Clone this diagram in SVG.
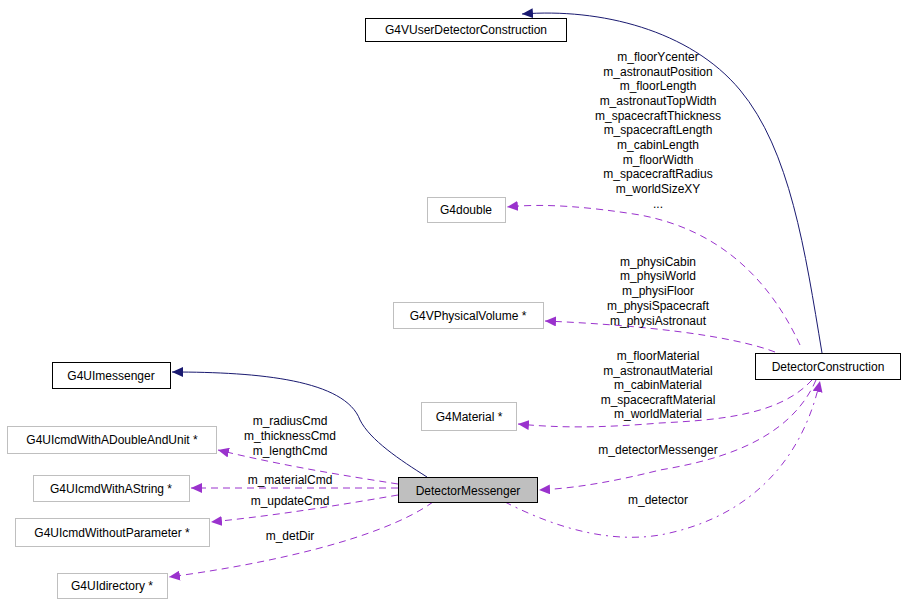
<svg xmlns="http://www.w3.org/2000/svg" width="904" height="600" viewBox="0 0 904 600">
<style>
text{font-family:"Liberation Sans",Arial,sans-serif;font-size:12px;fill:#000}
.n{fill:#fff;stroke:#000;stroke-width:1}
.g{fill:#fff;stroke:#bfbfbf;stroke-width:1}
.c{text-anchor:middle}
.inh{fill:none;stroke:#191970;stroke-width:1}
.use{fill:none;stroke:#9a32cd;stroke-width:1;stroke-dasharray:7,5}
.dd{fill:none;stroke:#9a32cd;stroke-width:1;stroke-dasharray:7,5,2,5}
</style>
<defs>
<marker id="an" markerWidth="12" markerHeight="10" refX="11" refY="5" orient="auto" markerUnits="userSpaceOnUse"><path d="M0,0L11,5L0,10z" fill="#191970"/></marker>
<marker id="ap" markerWidth="12" markerHeight="10" refX="11" refY="5" orient="auto" markerUnits="userSpaceOnUse"><path d="M0,0L11,5L0,10z" fill="#9a32cd"/></marker>
</defs>
<rect width="904" height="600" fill="#fff"/>
<g id="connectors">
<path class="inh" marker-end="url(#an)" d="M822,353 C805,250 790,150 740,90 C690,30 600,8 522,14"/>
<path class="inh" marker-end="url(#an)" d="M427,477 C400,460 370,440 360,420 C345,380 260,372 172,372"/>
<path class="use" marker-end="url(#ap)" d="M800,345 C770,280 720,230 640,215 C590,207 545,203 507,207"/>
<path class="use" marker-end="url(#ap)" d="M775,352 C730,335 640,325 545,321"/>
<path class="use" marker-end="url(#ap)" d="M812,380 C780,415 720,420 660,423 C600,428 560,428 518,424"/>
<path class="use" marker-end="url(#ap)" d="M816,380 C790,440 720,460 660,470 C620,480 580,488 539,490"/>
<path class="dd" marker-end="url(#ap)" d="M505,502 C540,520 600,545 660,535 C740,520 800,470 820,381"/>
<path class="use" marker-end="url(#ap)" d="M398,484 C340,475 280,465 218,450"/>
<path class="use" marker-end="url(#ap)" d="M398,488 L191,488"/>
<path class="use" marker-end="url(#ap)" d="M398,495 C340,505 280,515 211,522"/>
<path class="use" marker-end="url(#ap)" d="M433,502 C380,540 260,565 169,577"/>
</g>
<g id="labels">
<text class="c" x="658" y="61">m_floorYcenter</text>
<text class="c" x="658" y="76">m_astronautPosition</text>
<text class="c" x="658" y="90">m_floorLength</text>
<text class="c" x="658" y="105">m_astronautTopWidth</text>
<text class="c" x="658" y="120">m_spacecraftThickness</text>
<text class="c" x="658" y="134">m_spacecraftLength</text>
<text class="c" x="658" y="149">m_cabinLength</text>
<text class="c" x="658" y="164">m_floorWidth</text>
<text class="c" x="658" y="178">m_spacecraftRadius</text>
<text class="c" x="658" y="193">m_worldSizeXY</text>
<text class="c" x="658" y="208">...</text>
<text class="c" x="658" y="266">m_physiCabin</text>
<text class="c" x="658" y="280">m_physiWorld</text>
<text class="c" x="658" y="295">m_physiFloor</text>
<text class="c" x="658" y="310">m_physiSpacecraft</text>
<text class="c" x="658" y="325">m_physiAstronaut</text>
<text class="c" x="658" y="360">m_floorMaterial</text>
<text class="c" x="658" y="375">m_astronautMaterial</text>
<text class="c" x="658" y="389">m_cabinMaterial</text>
<text class="c" x="658" y="404">m_spacecraftMaterial</text>
<text class="c" x="658" y="418">m_worldMaterial</text>
<text class="c" x="658" y="454">m_detectorMessenger</text>
<text class="c" x="658" y="504">m_detector</text>
<text class="c" x="290" y="425">m_radiusCmd</text>
<text class="c" x="290" y="440">m_thicknessCmd</text>
<text class="c" x="290" y="455">m_lengthCmd</text>
<text class="c" x="290" y="484">m_materialCmd</text>
<text class="c" x="290" y="505">m_updateCmd</text>
<text class="c" x="290" y="540">m_detDir</text>
</g>
<g id="G4VUserDetectorConstruction"><rect class="n" x="365.5" y="18.5" width="201" height="23"/><text class="c" x="466" y="34">G4VUserDetectorConstruction</text></g>
<g id="G4double"><rect class="g" x="427.5" y="197.5" width="78" height="25"/><text class="c" x="466" y="214">G4double</text></g>
<g id="G4VPhysicalVolume"><rect class="g" x="393.5" y="302.5" width="150" height="26"/><text class="c" x="468" y="320">G4VPhysicalVolume *</text></g>
<g id="G4UImessenger"><rect class="n" x="52.5" y="362.5" width="118" height="26"/><text class="c" x="111" y="380">G4UImessenger</text></g>
<g id="DetectorConstruction"><rect class="n" x="755.5" y="353.5" width="145" height="26"/><text class="c" x="828" y="371">DetectorConstruction</text></g>
<g id="G4Material"><rect class="g" x="421.5" y="402.5" width="95" height="28"/><text class="c" x="469" y="421">G4Material *</text></g>
<g id="G4UIcmdWithADoubleAndUnit"><rect class="g" x="7.5" y="426.5" width="209" height="27"/><text class="c" x="112" y="444">G4UIcmdWithADoubleAndUnit *</text></g>
<g id="G4UIcmdWithAString"><rect class="g" x="33.5" y="475.5" width="156" height="26"/><text class="c" x="111" y="493">G4UIcmdWithAString *</text></g>
<g id="DetectorMessenger"><rect x="398.5" y="477.5" width="139" height="25" fill="#bfbfbf" stroke="#000"/><text class="c" x="468" y="495">DetectorMessenger</text></g>
<g id="G4UIcmdWithoutParameter"><rect class="g" x="15.5" y="518.5" width="194" height="28"/><text class="c" x="112" y="537">G4UIcmdWithoutParameter *</text></g>
<g id="G4UIdirectory"><rect class="g" x="57.5" y="573.5" width="110" height="25"/><text class="c" x="112" y="590">G4UIdirectory *</text></g>
</svg>
